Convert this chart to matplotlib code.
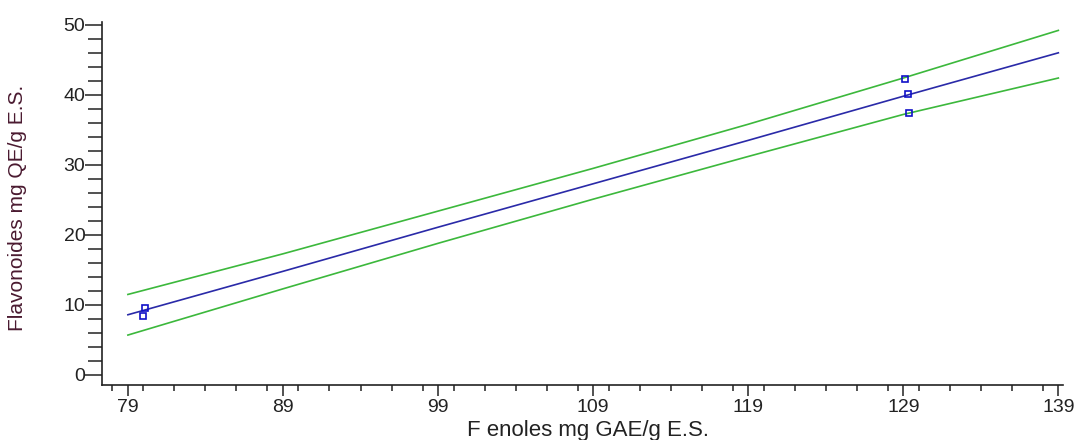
import matplotlib
matplotlib.use("Agg")
import matplotlib.pyplot as plt
from matplotlib.ticker import MultipleLocator

# ---------------------------------------------------------------------------
# Data
# ---------------------------------------------------------------------------
line_x   = [79, 89, 99, 109, 119, 129, 139]
fit_y    = [8.6, 14.8, 21.1, 27.3, 33.5, 39.8, 46.0]
upper_y  = [11.5, 17.3, 23.4, 29.5, 35.8, 42.4, 49.2]
lower_y  = [5.7, 12.3, 18.8, 25.1, 31.2, 37.2, 42.4]

obs_x = [80.0, 80.1, 129.1, 129.3, 129.4]
obs_y = [8.4, 9.6, 42.3, 40.1, 37.4]

x_ticks = [79, 89, 99, 109, 119, 129, 139]
y_ticks = [0, 10, 20, 30, 40, 50]

BLUE  = "#2a2aa8"
GREEN = "#3cb83c"

plt.rcParams["font.family"] = ["Liberation Sans", "DejaVu Sans"]

fig = plt.figure(figsize=(10.74, 4.40), dpi=100)
ax = fig.add_axes([102 / 1074, 1 - 385 / 440, (1063 - 102) / 1074, (385 - 22) / 440])

ax.plot(line_x, upper_y, color=GREEN, lw=1.2)
ax.plot(line_x, lower_y, color=GREEN, lw=1.2)
ax.plot(line_x, fit_y, color=BLUE, lw=1.2)
ax.plot(obs_x, obs_y, ls="none", marker="s", ms=5, mfc="none",
        mec="#1010c8", mew=1.2)

ax.set_xlim(77.33, 139.3)
ax.set_ylim(-1.43, 50.4)
ax.set_xticks(x_ticks)
ax.set_yticks(y_ticks)
ax.xaxis.set_minor_locator(MultipleLocator(2))
ax.yaxis.set_minor_locator(MultipleLocator(2))

for side in ("top", "right"):
    ax.spines[side].set_visible(False)
for side in ("left", "bottom"):
    ax.spines[side].set_linewidth(1.2)
    ax.spines[side].set_color("#222222")

ax.tick_params(axis="y", which="major", length=12, width=1.1, pad=0,
               labelsize=14, colors="#222222")
ax.tick_params(axis="y", which="minor", length=10, width=1.1, colors="#222222")
ax.tick_params(axis="x", which="major", length=8, width=1.1, pad=2,
               labelsize=14, colors="#222222")
ax.tick_params(axis="x", which="minor", length=4, width=1.1, colors="#222222")

fig.text(588 / 1074, 1 - 430 / 440, "F enoles mg GAE/g E.S.", ha="center",
         va="center", fontsize=16, color="#222222")
fig.text(18 / 1074, 1 - 208 / 440, "Flavonoides mg QE/g E.S.", ha="center",
         va="center", rotation=90, fontsize=15, color="#4a1a30")

fig.savefig("out.png", dpi=100)
